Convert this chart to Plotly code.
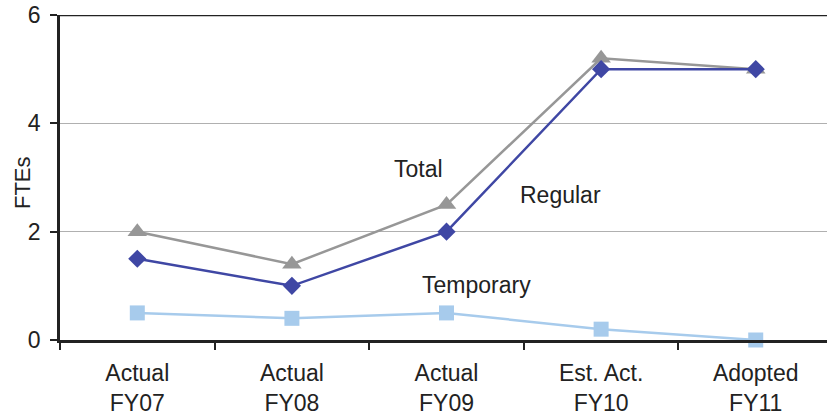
import plotly.graph_objects as go

categories = ["Actual<br>FY07", "Actual<br>FY08", "Actual<br>FY09", "Est. Act.<br>FY10", "Adopted<br>FY11"]
total = [2.0, 1.4, 2.5, 5.2, 5.0]
regular = [1.5, 1.0, 2.0, 5.0, 5.0]
temporary = [0.5, 0.4, 0.5, 0.2, 0.0]
y_ticks = [0, 2, 4, 6]

FONT = "Arial, Liberation Sans, sans-serif"
TXT = "#222222"

fig = go.Figure()
fig.add_trace(go.Scatter(x=categories, y=temporary, mode="lines+markers", name="Temporary",
                         line=dict(color="#A7CBEC", width=2.5),
                         marker=dict(symbol="square", size=15, color="#A7CBEC"),
                         cliponaxis=False))
fig.add_trace(go.Scatter(x=categories, y=total, mode="lines+markers", name="Total",
                         line=dict(color="#979797", width=2.5),
                         marker=dict(symbol="triangle-up", size=17, color="#979797"),
                         cliponaxis=False))
fig.add_trace(go.Scatter(x=categories, y=regular, mode="lines+markers", name="Regular",
                         line=dict(color="#3F47A4", width=2.5),
                         marker=dict(symbol="diamond", size=14, color="#3F47A4"),
                         cliponaxis=False))

fig.add_shape(type="line", xref="paper", yref="y", x0=0, x1=1, y0=6, y1=6,
              line=dict(color=TXT, width=2.5))

for txt, xx, yy in [("Total", 1.822, 3.157), ("Regular", 2.734, 2.677), ("Temporary", 2.197, 1.015)]:
    fig.add_annotation(x=xx, y=yy, xref="x", yref="y", text=txt, showarrow=False,
                       font=dict(family=FONT, size=23, color=TXT))

# y-axis title
fig.add_annotation(x=-0.0495, y=0.483, xref="paper", yref="paper", text="FTEs", showarrow=False,
                   textangle=-90, xanchor="center", yanchor="middle",
                   font=dict(family=FONT, size=22, color=TXT))

fig.update_layout(
    width=827, height=416,
    margin=dict(l=60, r=0, t=15, b=76),
    paper_bgcolor="white", plot_bgcolor="white",
    showlegend=False,
    font=dict(family=FONT, size=23, color=TXT),
)
fig.update_xaxes(type="category", range=[-0.5, 4.461], tickson="boundaries",
                 ticks="outside", ticklen=7, tickwidth=1.5, tickcolor=TXT,
                 showline=True, linecolor=TXT, linewidth=2.5, automargin=False,
                 showgrid=False, ticklabelstandoff=11,
                 tickfont=dict(family=FONT, size=23, color=TXT))
fig.update_yaxes(range=[0, 6], tickvals=y_ticks, ticks="outside", ticklen=7, tickwidth=1.5,
                 tickcolor=TXT, showline=True, linecolor=TXT, linewidth=2.5, automargin=False,
                 showgrid=True, gridcolor="#B0B0B0", gridwidth=1, zeroline=False,
                 ticklabelstandoff=5, ticklabeloverflow="allow",
                 tickfont=dict(family=FONT, size=23, color=TXT))

fig.write_html("out.html", config={"displayModeBar": False},
               post_script="document.body.style.margin='0';document.body.style.overflow='hidden';window.dispatchEvent(new Event('resize'));")
